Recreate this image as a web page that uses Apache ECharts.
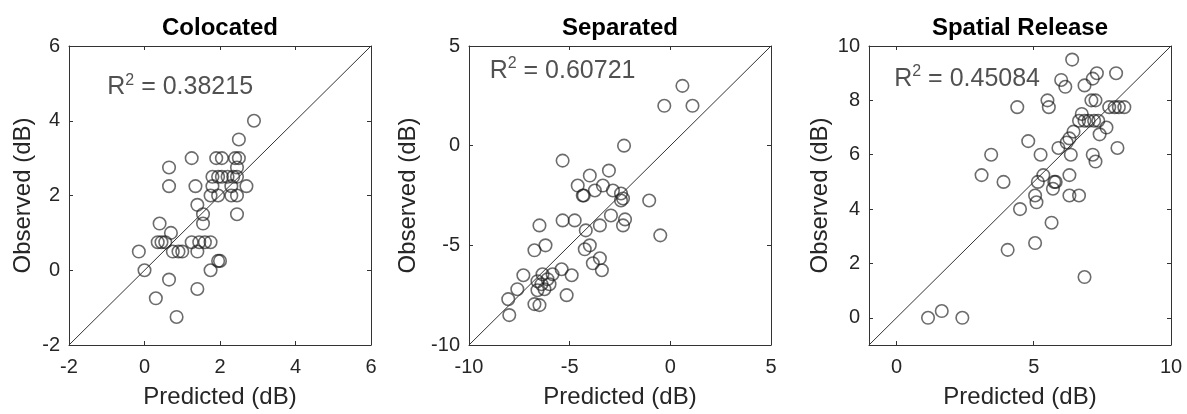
<!DOCTYPE html>
<html>
<head>
<meta charset="utf-8">
<script src="https://cdn.jsdelivr.net/npm/echarts@6/dist/echarts.min.js"></script>
<style>
  html, body { margin: 0; padding: 0; background: #fff; }
  #chart { width: 1187px; height: 414px; }
</style>
</head>
<body>
<div id="chart"></div>
<script>
// Colocated
const colocatedPred = [2.9, 2.5, 1.25, 1.9, 2.05, 2.4, 2.5, 2.45, 0.65, 0.65, 1.35, 1.8, 2.3, 2.7,
  1.8, 1.95, 2.05, 2.2, 2.35, 2.45, 1.75, 1.95, 2.3, 2.45, 1.4, 2.45, 1.55, 1.55, 0.4, 0.7,
  0.35, 0.45, 0.55, 1.25, 1.45, 1.6, 1.75, -0.15, 0.75, 0.9, 1.0, 1.4, 1.95, 2.0, 0, 1.75,
  0.65, 1.4, 0.3, 0.85];
const colocatedObs = [4.0, 3.5, 3.0, 3.0, 3.0, 3.0, 3.0, 2.75, 2.75, 2.25, 2.25, 2.25, 2.25, 2.25,
  2.5, 2.5, 2.5, 2.5, 2.5, 2.5, 2.0, 2.0, 2.0, 2.0, 1.75, 1.5, 1.5, 1.25, 1.25, 1.0,
  0.75, 0.75, 0.75, 0.75, 0.75, 0.75, 0.75, 0.5, 0.5, 0.5, 0.5, 0.5, 0.25, 0.25, 0, 0,
  -0.25, -0.5, -0.75, -1.25];

// Separated
const separatedPred = [0.6, -0.3, 1.1, -2.3, -5.35, -4.0, -3.05, -4.6, -3.35, -3.75, -4.3, -4.35,
  -2.85, -2.45, -2.45, -2.35, -1.05, -2.95, -5.35, -4.75, -3.5, -2.25, -2.35, -4.2, -6.5, -0.5,
  -6.2, -6.75, -4.0, -4.25, -3.5, -3.85, -3.4, -5.4, -4.9, -7.3, -7.6, -8.05, -8.0, -5.15,
  -6.35, -5.85, -6.1, -6.6, -6.4, -6.0, -6.6, -6.25, -6.75, -6.5];
const separatedObs = [3.0, 2.0, 2.0, 0, -0.75, -1.5, -1.25, -2.0, -2.0, -2.25, -2.5, -2.5,
  -2.25, -2.4, -2.75, -2.65, -2.75, -3.5, -3.75, -3.75, -4.0, -3.7, -4.0, -4.25, -4.0, -4.5,
  -5.0, -5.25, -5.0, -5.2, -5.65, -5.9, -6.25, -6.2, -6.5, -6.5, -7.2, -7.7, -8.5, -7.5,
  -6.45, -6.45, -6.7, -6.8, -6.95, -6.95, -7.25, -7.2, -7.95, -8.0];

// Spatial Release
const releasePred = [6.4, 8.0, 7.3, 7.15, 6.0, 6.15, 6.85, 5.5, 5.55, 4.4, 7.1, 7.25, 6.75,
  7.75, 7.95, 8.1, 8.3, 6.65, 6.85, 7.0, 7.2, 7.35, 7.65, 7.4, 6.45, 6.3, 6.2, 5.9, 4.8, 8.05,
  3.45, 5.25, 6.35, 7.15, 7.25, 3.1, 3.9, 5.35, 5.15, 5.75, 5.8, 5.7, 6.3, 5.05, 5.1, 6.3, 6.65,
  4.5, 5.65, 4.05, 5.05, 6.85, 1.15, 1.65, 2.4];
const releaseObs = [9.5, 9.0, 9.0, 8.8, 8.75, 8.5, 8.55, 8.0, 7.75, 7.75, 8.0, 8.0, 7.5,
  7.75, 7.75, 7.75, 7.75, 7.25, 7.25, 7.25, 7.25, 7.25, 7.0, 6.75, 6.85, 6.6, 6.45, 6.25, 6.5, 6.25,
  6.0, 6.0, 6.0, 6.0, 5.75, 5.25, 5.0, 5.25, 5.0, 5.0, 5.0, 4.75, 5.25, 4.5, 4.25, 4.5, 4.5,
  4.0, 3.5, 2.5, 2.75, 1.5, 0, 0.25, 0];

const titles = ['Colocated', 'Separated', 'Spatial Release'];
const r2Values = ['0.38215', '0.60721', '0.45084'];
const axisLimits = [[-2, 6], [-10, 5], [-1, 10]];
const xTickValues = [[-2, 0, 2, 4, 6], [-10, -5, 0, 5], [0, 5, 10]];
const yTickValues = [[-2, 0, 2, 4, 6], [-10, -5, 0, 5], [0, 2, 4, 6, 8, 10]];
const r2Anchors = [[-1, 4.9], [-9, 3.75], [-0.1, 8.8]];

const predicted = [colocatedPred, separatedPred, releasePred];
const observed = [colocatedObs, separatedObs, releaseObs];

const font = "'Liberation Sans', Arial, sans-serif";
const ink = '#262626';
const gridLefts = [69, 469, 869];
const yNameGaps = [34, 49, 37];

const chart = echarts.init(document.getElementById('chart'));

const grids = [], xAxes = [], yAxes = [], series = [], titleList = [];

titles.forEach((t, i) => {
  const lim = axisLimits[i];
  grids.push({ left: gridLefts[i], top: 46, width: 302, height: 302 });
  titleList.push({
    text: t, left: gridLefts[i] + 151, top: 16, textAlign: 'center', padding: 0,
    textStyle: { fontFamily: font, fontSize: 24, fontWeight: 'bold', color: '#000' },
  });

  const common = {
    type: 'value', gridIndex: i, min: lim[0], max: lim[1],
    axisLine: { show: true, onZero: false, lineStyle: { color: '#333', width: 1 } },
    splitLine: { show: false },
  };
  const ticksX = { inside: true, length: 4, customValues: xTickValues[i], lineStyle: { color: '#333' } };
  const ticksY = { inside: true, length: 4, customValues: yTickValues[i], lineStyle: { color: '#333' } };
  xAxes.push(Object.assign({}, common, {
    position: 'bottom',
    name: 'Predicted (dB)', nameLocation: 'middle', nameGap: 40,
    nameTextStyle: { fontFamily: font, fontSize: 24, color: ink },
    axisTick: ticksX,
    axisLabel: { customValues: xTickValues[i], margin: 12, fontFamily: font, fontSize: 20, color: ink },
  }));
  xAxes.push(Object.assign({}, common, {
    position: 'top', axisTick: ticksX, axisLabel: { show: false },
  }));
  yAxes.push(Object.assign({}, common, {
    position: 'left',
    name: 'Observed (dB)', nameLocation: 'middle', nameGap: yNameGaps[i],
    nameTextStyle: { fontFamily: font, fontSize: 24, color: ink },
    axisTick: ticksY,
    axisLabel: { customValues: yTickValues[i], margin: 9, fontFamily: font, fontSize: 20, color: ink },
  }));
  yAxes.push(Object.assign({}, common, {
    position: 'right', axisTick: ticksY, axisLabel: { show: false },
  }));

  // identity line across the axis box
  series.push({
    type: 'line', xAxisIndex: 2 * i, yAxisIndex: 2 * i, silent: true,
    symbol: 'none', lineStyle: { color: '#333', width: 1 },
    data: [[lim[0], lim[0]], [lim[1], lim[1]]],
  });
  series.push({
    type: 'scatter', xAxisIndex: 2 * i, yAxisIndex: 2 * i,
    symbol: 'circle', symbolSize: 12.5,
    itemStyle: { color: 'transparent', borderColor: 'rgba(25,25,25,0.8)', borderWidth: 1.6 },
    data: predicted[i].map((p, k) => [p, observed[i][k]]),
  });
  series.push({
    type: 'scatter', xAxisIndex: 2 * i, yAxisIndex: 2 * i, silent: true,
    symbolSize: 1, itemStyle: { color: 'transparent' },
    label: {
      show: true, position: 'right', distance: 0,
      formatter: '{r|R}{s|2}{r| = ' + r2Values[i] + '}',
      rich: {
        r: { fontFamily: font, fontSize: 25, lineHeight: 30, color: ink },
        s: { fontFamily: font, fontSize: 16, lineHeight: 16, verticalAlign: 'top', color: ink },
      },
    },
    data: [r2Anchors[i]],
  });
});

chart.setOption({
  animation: false,
  title: titleList,
  grid: grids,
  xAxis: xAxes,
  yAxis: yAxes,
  series: series,
});

window.addEventListener('resize', () => chart.resize());
</script>
</body>
</html>
